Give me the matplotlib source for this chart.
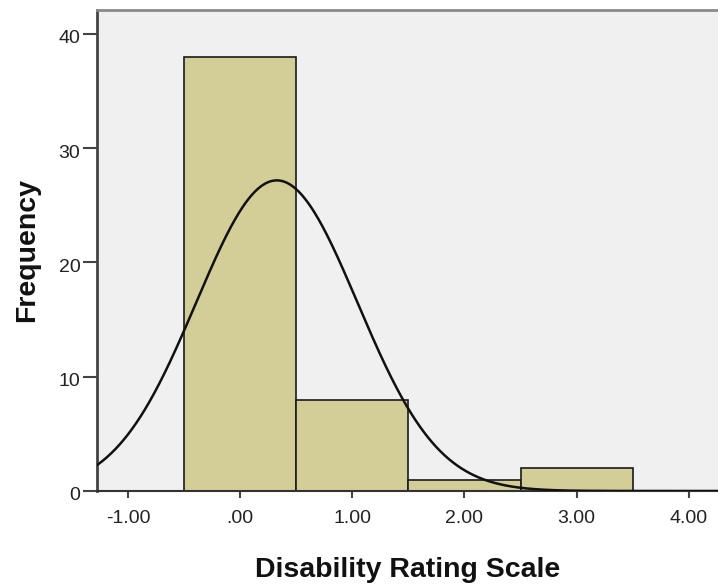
import numpy as np
import matplotlib
matplotlib.use("Agg")
import matplotlib.pyplot as plt
import matplotlib.transforms as mtransforms

# Data
bin_edges = [-0.5, 0.5, 1.5, 2.5, 3.5]
counts = [38, 8, 1, 2]
n_total = 49
mean_val = 0.327
sd_val = 0.719
x_ticks = [-1.0, 0.0, 1.0, 2.0, 3.0, 4.0]
x_tick_labels = ["-1.00", ".00", "1.00", "2.00", "3.00", "4.00"]
y_ticks = [0, 10, 20, 30, 40]

plt.rcParams['font.family'] = ['Liberation Sans', 'DejaVu Sans']

fig = plt.figure(figsize=(7.18, 5.85), dpi=100)
ax = fig.add_axes([97/718, 1-491/585, 1-97/718, (491-10)/585])
ax.set_facecolor('#f0f0f0')

widths = np.diff(bin_edges)
ax.bar(bin_edges[:-1], counts, width=widths, align='edge',
       color='#d3ce97', edgecolor='#1a1a1a', linewidth=1.2, zorder=2)

xs = np.linspace(-1.3, 4.3, 600)
binw = widths[0]
ys = n_total * binw / (sd_val * np.sqrt(2*np.pi)) * np.exp(-0.5*((xs-mean_val)/sd_val)**2)
ax.plot(xs, ys, color='#111111', linewidth=1.8, zorder=3)

ax.set_xlim(-1.276, 4.26)
ax.set_ylim(0, 42.1)
ax.set_xticks(x_ticks)
ax.set_xticklabels(x_tick_labels)
ax.set_yticks(y_ticks)

ax.spines['right'].set_visible(False)
ax.spines['top'].set_color('#8a8a8a')
ax.spines['top'].set_linewidth(2)
ax.spines['left'].set_color('#444444')
ax.spines['left'].set_linewidth(2)
ax.spines['bottom'].set_color('#333333')
ax.spines['bottom'].set_linewidth(1.5)

ax.tick_params(axis='y', length=10, width=1.5, color='#444444', pad=2,
               labelsize=14, labelcolor='#222222')
ax.tick_params(axis='x', length=5, width=1.5, color='#444444', pad=9,
               labelsize=14, labelcolor='#222222')

offset = mtransforms.ScaledTranslation(0, -3/100, fig.dpi_scale_trans)
for lab in ax.get_yticklabels():
    lab.set_transform(lab.get_transform() + offset)

ax.set_xlabel('Disability Rating Scale', fontsize=20.5, fontweight='bold',
              labelpad=21, color='#111111')
ax.set_ylabel('Frequency', fontsize=20.5, fontweight='bold',
              labelpad=13, color='#111111')

fig.savefig('out.png', dpi=100)
